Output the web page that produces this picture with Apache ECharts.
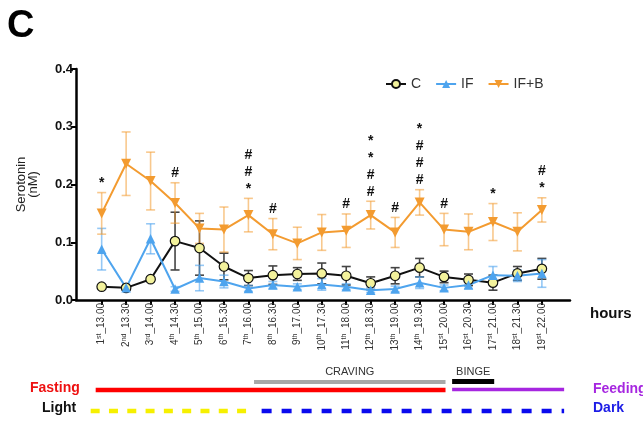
<!DOCTYPE html>
<html>
<head>
<meta charset="utf-8">
<script src="https://cdn.jsdelivr.net/npm/echarts@6/dist/echarts.min.js"></script>
<style>
  html, body { margin: 0; padding: 0; background: #fff; }
  #chart { width: 643px; height: 421px; }
</style>
</head>
<body>
<div id="chart"></div>
<script>
// Sampling points: ordinal number, its suffix and the clock time
const ordinals = ['1','2','3','4','5','6','7','8','9','10','11','12','13','14','15','16','17','18','19'];
const suffixes = ['st','nd','rd','th','th','th','th','th','th','th','th','th','th','th','st','st','st','st','st'];
const times = ['13.00','13.30','14.00','14.30','15.00','15.30','16.00','16.30','17.00','17.30',
               '18.00','18.30','19.00','19.30','20.00','20.30','21.00','21.30','22.00'];

// Serotonin (nM), mean and SEM per group
const meanC   = [0.023,0.021,0.036,0.102,0.090,0.058,0.038,0.043,0.045,0.046,0.042,0.029,0.042,0.056,0.040,0.035,0.030,0.046,0.054];
const semC    = [0.003,0.003,0.004,0.050,0.047,0.023,0.013,0.016,0.011,0.018,0.016,0.011,0.014,0.016,0.010,0.010,0.013,0.012,0.018];
const meanIF  = [0.088,0.021,0.106,0.019,0.038,0.032,0.020,0.026,0.023,0.027,0.023,0.017,0.019,0.030,0.021,0.026,0.043,0.042,0.046];
const semIF   = [0.036,0.003,0.026,0.004,0.022,0.011,0.005,0.006,0.005,0.010,0.005,0.004,0.005,0.010,0.005,0.006,0.015,0.010,0.024];
const meanIFB = [0.150,0.236,0.206,0.168,0.124,0.122,0.147,0.114,0.098,0.117,0.120,0.147,0.117,0.169,0.122,0.118,0.135,0.118,0.156];
const semIFB  = [0.036,0.055,0.050,0.035,0.026,0.039,0.029,0.027,0.028,0.031,0.029,0.024,0.026,0.022,0.028,0.031,0.032,0.033,0.021];

// Significance marks placed over the IF+B error bars
const marksIFB = ['*','','','#','','','#\n#\n*','#','','','#','*\n*\n#\n#','#','*\n#\n#\n#','#','','*','','#\n*'];

// Y axis ticks
const yTicks = [0, 0.1, 0.2, 0.3, 0.4];

// Protocol phases, in sampling-point units
const fastingSpan = [-0.245, 14.06];
const feedingSpan = [14.33, 18.91];
const cravingSpan = [6.23, 14.06];
const bingeSpan   = [14.33, 16.05];
const lightSpan   = [-0.45, 6.09];
const darkSpan    = [6.54, 18.91];

const FONT = '"Liberation Sans", Arial, sans-serif';
const idx = ordinals.map((_, i) => i);

function pts(means) { return means.map((m, i) => [i, m]); }
function errData(means, sems) { return means.map((m, i) => [i, m - sems[i], m + sems[i]]); }

function errRender(color, cap) {
  return function (params, api) {
    const x = api.value(0);
    const top = api.coord([x, api.value(2)]);
    const bot = api.coord([x, api.value(1)]);
    const st = { stroke: color, lineWidth: 1.6 };
    return {
      type: 'group',
      children: [
        { type: 'line', shape: { x1: top[0], y1: top[1], x2: bot[0], y2: bot[1] }, style: st },
        { type: 'line', shape: { x1: top[0] - cap, y1: top[1], x2: top[0] + cap, y2: top[1] }, style: st },
        { type: 'line', shape: { x1: bot[0] - cap, y1: bot[1], x2: bot[0] + cap, y2: bot[1] }, style: st }
      ]
    };
  };
}

const colC = '#111111', fillC = '#f3f29c';
const colIF = '#4ea4ee';
const colIFB = '#f39b30';

const chart = echarts.init(document.getElementById('chart'), null, { renderer: 'canvas' });

chart.setOption({
  animation: false,
  backgroundColor: '#ffffff',
  textStyle: { fontFamily: FONT },
  grid: { left: 76, right: 73, top: 69, bottom: 121, containLabel: false },
  legend: {
    data: ['C', 'IF', 'IF+B'],
    left: 380, top: 72,
    itemWidth: 20, itemHeight: 10, itemGap: 14,
    textStyle: { fontSize: 14, color: '#333', fontFamily: FONT }
  },
  xAxis: {
    type: 'value',
    min: -1.05, max: 19.15,
    axisLine: { onZero: false, lineStyle: { color: '#000', width: 2.5 } },
    axisTick: { customValues: idx, length: 5, lineStyle: { color: '#000', width: 2 } },
    splitLine: { show: false },
    axisLabel: {
      customValues: idx,
      rotate: 90,
      margin: 3,
      formatter: v => {
        const i = Math.round(v);
        return '{n|' + ordinals[i] + '}{s|' + suffixes[i] + '}{n|_' + times[i] + '}';
      },
      rich: {
        n: { fontSize: 10, color: '#333', fontFamily: FONT, lineHeight: 12 },
        s: { fontSize: 7, color: '#333', fontFamily: FONT, verticalAlign: 'top', lineHeight: 12 }
      }
    }
  },
  yAxis: {
    type: 'value',
    min: 0, max: 0.4, interval: 0.1,
    name: 'Serotonin\n(nM)',
    nameLocation: 'middle',
    nameGap: 37,
    nameTextStyle: { fontSize: 13, color: '#222', lineHeight: 12, fontFamily: FONT },
    axisLine: { show: true, onZero: false, lineStyle: { color: '#000', width: 2.5 } },
    axisTick: { show: true, length: 5, lineStyle: { color: '#000', width: 2 } },
    splitLine: { show: false },
    axisLabel: {
      margin: 3,
      fontSize: 13, fontWeight: 'bold', color: '#111', fontFamily: FONT,
      formatter: v => yTicks.some(t => Math.abs(t - v) < 1e-9) ? v.toFixed(1) : ''
    }
  },
  graphic: [
    { type: 'text', left: 7, top: 8, style: { text: 'C', font: 'bold 38px ' + FONT, fill: '#000' } },
    { type: 'text', left: 590, top: 306, style: { text: 'hours', font: 'bold 15px ' + FONT, fill: '#111' } },
    { type: 'text', left: 30, top: 381, style: { text: 'Fasting', font: 'bold 14px ' + FONT, fill: '#ee1111' } },
    { type: 'text', left: 42, top: 401, style: { text: 'Light', font: 'bold 14px ' + FONT, fill: '#111' } },
    { type: 'text', left: 593, top: 382, style: { text: 'Feeding', font: 'bold 14px ' + FONT, fill: '#a626e0' } },
    { type: 'text', left: 593, top: 401, style: { text: 'Dark', font: 'bold 14px ' + FONT, fill: '#1c1ce6' } }
  ],
  series: [
    {
      name: 'C-err', type: 'custom', z: 1, silent: true,
      data: errData(meanC, semC), encode: { x: 0, y: [1, 2] },
      renderItem: errRender('#444444', 4.5)
    },
    {
      name: 'IF-err', type: 'custom', z: 1, silent: true,
      data: errData(meanIF, semIF), encode: { x: 0, y: [1, 2] },
      renderItem: errRender('rgba(78,164,238,0.6)', 4.5)
    },
    {
      name: 'IF+B-err', type: 'custom', z: 1, silent: true,
      data: errData(meanIFB, semIFB), encode: { x: 0, y: [1, 2] },
      renderItem: errRender('rgba(243,155,48,0.55)', 4.5)
    },
    {
      name: 'C', type: 'line', z: 3,
      data: pts(meanC),
      symbol: 'circle', symbolSize: 9.5,
      lineStyle: { color: colC, width: 2 },
      itemStyle: { color: fillC, borderColor: colC, borderWidth: 1.2 }
    },
    {
      name: 'IF', type: 'line', z: 3,
      data: pts(meanIF),
      symbol: 'triangle', symbolSize: 9.5,
      lineStyle: { color: colIF, width: 2 },
      itemStyle: { color: colIF }
    },
    {
      name: 'IF+B', type: 'line', z: 3,
      data: pts(meanIFB),
      symbol: 'triangle', symbolRotate: 180, symbolSize: 10,
      lineStyle: { color: colIFB, width: 2 },
      itemStyle: { color: colIFB }
    },
    {
      name: 'marks', type: 'custom', z: 4, silent: true,
      data: meanIFB.map((m, i) => [i, m + semIFB[i]]),
      encode: { x: 0, y: 1 },
      renderItem: function (params, api) {
        const txt = marksIFB[params.dataIndex];
        if (!txt) return null;
        const p = api.coord([api.value(0), api.value(1)]);
        return {
          type: 'text', x: p[0], y: p[1] - 1,
          style: {
            text: txt, font: 'bold 14px ' + FONT, fill: '#111',
            align: 'center', verticalAlign: 'bottom',
            textAlign: 'center', textVerticalAlign: 'bottom',
            lineHeight: 17
          }
        };
      }
    }
  ]
});

// Phase bars under the time axis, positioned through the x scale
const px = v => chart.convertToPixel({ xAxisIndex: 0 }, v);
const y0 = chart.convertToPixel({ yAxisIndex: 0 }, 0);
function bar(span, dy, color, width, dash) {
  return {
    type: 'line', silent: true,
    shape: { x1: px(span[0]), y1: y0 + dy, x2: px(span[1]), y2: y0 + dy },
    style: { stroke: color, lineWidth: width, lineDash: dash || null, lineCap: 'butt' }
  };
}
function label(span, dy, text) {
  return {
    type: 'text', silent: true,
    x: (px(span[0]) + px(span[1])) / 2, y: y0 + dy,
    style: { text: text, font: '11px ' + FONT, fill: '#333', align: 'center', verticalAlign: 'middle' }
  };
}
chart.setOption({
  graphic: [
    bar(cravingSpan, 82, '#a8a8a8', 4),
    bar(bingeSpan, 81.5, '#000000', 5),
    bar(fastingSpan, 90, '#ff0000', 4.5),
    bar(feedingSpan, 89.5, '#a626e0', 3.5),
    bar(lightSpan, 111, '#f6f000', 4.5, [9, 9.3]),
    bar(darkSpan, 111, '#0a0aee', 4.5, [10, 10]),
    label(cravingSpan, 72, 'CRAVING'),
    label(bingeSpan, 72, 'BINGE')
  ].map((g, k) => Object.assign({ id: 'phase' + k }, g))
});
</script>
</body>
</html>
